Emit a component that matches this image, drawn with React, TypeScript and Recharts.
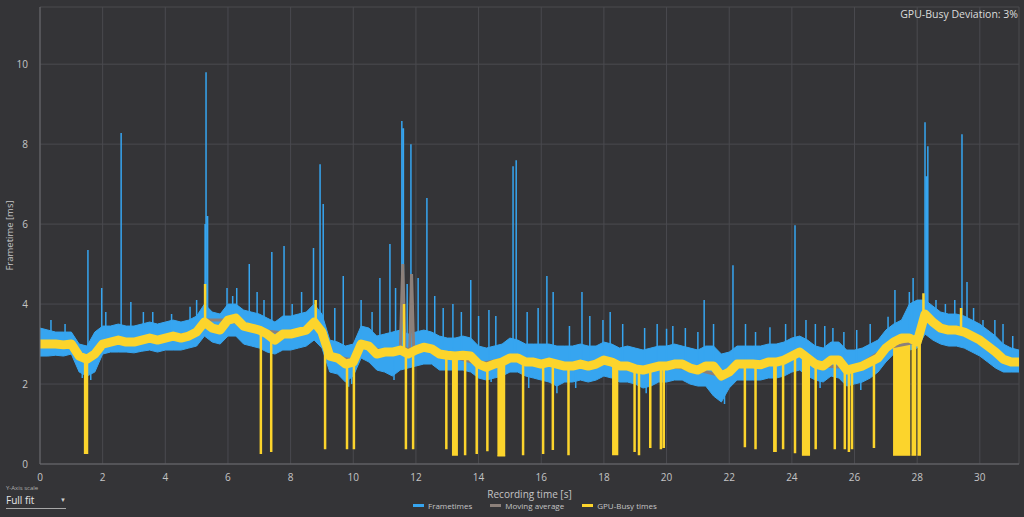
import React from 'react';
import { ComposedChart, Line, Area, XAxis, YAxis, CartesianGrid } from 'recharts';

// samples are 0.25 s apart
const STEP = 0.25;

// GPU-busy band centre (ms), one row per second
const gpuBusy = [
  3.0, 3.0, 3.0, 2.98,
  3.0, 2.7, 2.62, 2.75,
  3.0, 3.05, 3.1, 3.05,
  3.05, 3.1, 3.15, 3.1,
  3.15, 3.2, 3.15, 3.2,
  3.3, 3.55, 3.4, 3.35,
  3.6, 3.65, 3.45, 3.4,
  3.35, 3.25, 3.1, 3.25,
  3.25, 3.3, 3.35, 3.55,
  3.3, 2.7, 2.65, 2.5,
  2.55, 3.0, 2.95, 2.75,
  2.8, 2.8, 2.85, 2.75,
  2.85, 2.92, 2.88, 2.75,
  2.72, 2.7, 2.72, 2.7,
  2.5, 2.42, 2.5, 2.55,
  2.65, 2.65, 2.55, 2.55,
  2.5, 2.55, 2.5, 2.45,
  2.45, 2.5, 2.45, 2.5,
  2.6, 2.55, 2.45, 2.45,
  2.38, 2.35, 2.4, 2.45,
  2.45, 2.5, 2.5, 2.4,
  2.35, 2.45, 2.45, 2.2,
  2.3, 2.5, 2.5, 2.5,
  2.48, 2.55, 2.55, 2.6,
  2.7, 2.8, 2.65, 2.5,
  2.45, 2.6, 2.6, 2.35,
  2.4, 2.45, 2.55, 2.65,
  2.9, 3.05, 3.15, 3.15,
  3.05, 3.75, 3.55, 3.4,
  3.35, 3.35, 3.3, 3.2,
  3.1, 2.95, 2.8, 2.62,
  2.55, 2.55,
];

// frametime band, upper edge
const frameHigh = [
  3.4, 3.35, 3.3, 3.3,
  3.3, 3.0, 2.95, 3.3,
  3.45, 3.45, 3.5, 3.45,
  3.45, 3.5, 3.55, 3.5,
  3.55, 3.6, 3.55, 3.6,
  3.7, 4.0, 3.8, 3.75,
  4.0, 4.0, 3.85, 3.8,
  3.75, 3.65, 3.55, 3.7,
  3.7, 3.75, 3.8, 4.0,
  3.75, 3.1, 3.05, 2.95,
  3.0, 3.45, 3.4, 3.2,
  3.25, 3.3, 3.35, 3.25,
  3.3, 3.35, 3.3, 3.2,
  3.15, 3.15, 3.2, 3.15,
  2.95, 2.9, 2.95, 3.0,
  3.15, 3.1, 3.0, 3.0,
  3.0, 3.0, 2.95, 2.95,
  2.95, 3.0, 2.95, 2.95,
  3.05, 3.0, 2.9, 2.95,
  2.9, 2.85, 2.9, 2.95,
  2.95, 3.0, 2.95, 2.9,
  2.85, 2.95, 2.95, 2.75,
  2.8, 2.95, 2.95, 2.95,
  2.95, 3.0, 3.0, 3.05,
  3.15, 3.2, 3.1, 2.95,
  2.9, 3.05, 3.05, 2.85,
  2.85, 2.9, 3.0, 3.1,
  3.35, 3.5, 3.6, 4.0,
  4.1, 4.1, 3.95, 3.8,
  3.75, 3.75, 3.7, 3.6,
  3.5, 3.35, 3.2, 3.0,
  2.9, 2.85,
];

// frametime band, lower edge
const frameLow = [
  2.7, 2.7, 2.72, 2.7,
  2.75, 2.3, 2.2, 2.3,
  2.75, 2.8, 2.8, 2.8,
  2.78, 2.82, 2.85, 2.8,
  2.85, 2.85, 2.85, 2.9,
  2.95, 3.2, 3.05, 3.0,
  3.2, 3.2, 3.0, 2.95,
  2.9, 2.8, 2.75, 2.85,
  2.85, 2.9, 2.95, 3.1,
  2.9, 2.3, 2.25, 2.05,
  2.2, 2.65, 2.55, 2.35,
  2.3, 2.2, 2.35, 2.4,
  2.45, 2.5, 2.5, 2.35,
  2.35, 2.35, 2.35, 2.3,
  2.15, 2.1, 2.15, 2.2,
  2.3, 2.3, 2.2, 2.15,
  2.1, 2.05, 1.95, 2.05,
  2.05, 2.1, 2.05, 2.1,
  2.2, 2.15, 2.05, 2.05,
  2.0, 1.9, 1.95, 2.05,
  2.05, 2.1, 2.1, 2.0,
  1.95, 1.95, 1.7, 1.55,
  1.9, 2.1, 2.1, 2.1,
  2.1, 2.15, 2.15, 2.2,
  2.3, 2.35, 2.2, 2.1,
  2.05, 2.2, 2.15, 1.95,
  2.0, 2.05, 2.15, 2.3,
  2.55, 2.75, 2.85, 2.85,
  2.9, 3.25, 3.1, 3.0,
  2.95, 2.95, 2.9, 2.8,
  2.7, 2.55, 2.4, 2.3,
  2.3, 2.3,
];

// single frametime spikes [time s, peak ms]
const frameSpikes = [
  [0.35, 3.6], [0.8, 3.5], [1.53, 5.35], [1.97, 4.4], [2.1, 3.8], [2.59, 8.28], [2.9, 4.05],
  [3.3, 3.8], [3.6, 3.8], [4.2, 3.75], [4.79, 3.93], [5.0, 4.1], [5.27, 6.0], [5.3, 9.8],
  [5.35, 6.2], [5.97, 4.4], [6.15, 4.2], [6.28, 4.4], [6.68, 5.0], [6.93, 4.3], [7.15, 4.1],
  [7.4, 5.3], [7.79, 5.45], [8.05, 4.0], [8.35, 4.3], [8.73, 5.4], [8.94, 7.5], [9.04, 6.5],
  [9.41, 3.9], [9.68, 4.7], [10.25, 4.1], [10.6, 3.8], [10.85, 4.65], [11.17, 5.5], [11.35, 4.4],
  [11.55, 8.58], [11.6, 8.4], [11.72, 4.5], [11.84, 8.0], [12.07, 4.65], [12.35, 6.65], [12.6, 4.2],
  [12.87, 3.9], [13.18, 4.0], [13.45, 3.8], [13.75, 4.6], [14.0, 3.7], [14.33, 3.85], [14.55, 3.7],
  [15.1, 7.45], [15.2, 7.6], [15.55, 3.8], [15.9, 3.9], [16.18, 4.7], [16.38, 4.3], [16.9, 3.45],
  [17.3, 4.3], [17.55, 3.7], [17.97, 3.6], [18.2, 3.8], [18.6, 3.5], [19.3, 3.4], [19.7, 3.5],
  [20.0, 3.38], [20.2, 3.45], [20.6, 3.4], [21.0, 3.3], [21.2, 4.1], [21.5, 3.5], [22.12, 4.97],
  [22.52, 3.5], [22.84, 3.3], [23.3, 3.42], [23.8, 3.5], [24.1, 5.97], [24.45, 3.6], [24.75, 3.5],
  [25.05, 3.45], [25.31, 3.4], [25.66, 3.3], [26.07, 3.35], [26.5, 3.5], [27.07, 3.68], [27.29, 4.35],
  [27.75, 4.3], [27.87, 4.65], [28.25, 8.55], [28.3, 7.2], [28.34, 7.95], [28.6, 4.1], [28.9, 4.0],
  [29.2, 4.1], [29.43, 8.25], [29.59, 4.55], [29.8, 3.9], [30.1, 3.6], [30.48, 3.6], [30.74, 3.5],
  [31.05, 3.2],
];
// short frametime dips below the band [time s, low ms]
const frameDips = [
  [1.35, 2.15], [1.62, 2.1], [9.85, 1.93], [9.95, 2.0], [11.3, 2.1], [14.4, 2.05], [15.6, 1.9],
  [16.5, 1.77], [17.1, 1.9], [19.35, 1.77], [21.85, 1.5], [24.9, 1.9], [25.7, 1.8], [26.2, 1.85],
];

// GPU-busy upward peaks and single drops [time s, value ms]
const gpuPeaks = [[5.27, 4.5], [8.8, 4.1], [11.62, 4.0], [28.2, 4.27], [29.4, 3.9]];
const gpuDrops = [
  [1.44, 0.25], [1.5, 0.25], [7.05, 0.25], [7.38, 0.3], [9.1, 0.37], [9.8, 0.37], [10.02, 0.37],
  [11.68, 0.37], [11.91, 0.37], [12.97, 0.37], [13.57, 0.22], [13.94, 0.25], [14.28, 0.32],
  [15.42, 0.22], [16.06, 0.25], [16.37, 0.35], [16.87, 0.22], [18.3, 0.22], [18.36, 0.22],
  [18.42, 0.22], [18.98, 0.3], [19.12, 0.22], [19.48, 0.4], [19.82, 0.37], [19.91, 0.4],
  [22.5, 0.42], [22.84, 0.37], [23.44, 0.3], [23.48, 0.3], [23.72, 0.37], [24.1, 0.27],
  [24.76, 0.37], [25.37, 0.37], [25.69, 0.37], [25.82, 0.3], [25.92, 0.37], [26.62, 0.4],
];
// dense runs of drops [from s, to s, bottom ms]
const gpuDropBlocks = [
  [13.15, 13.34, 0.22], [14.6, 14.85, 0.2], [24.32, 24.58, 0.22],
  [27.23, 27.78, 0.22], [27.82, 27.97, 0.22], [28.01, 28.12, 0.22],
];

// moving average
const maTimes = [0, 1, 1.5, 2, 3, 4, 5, 5.3, 6, 7, 8, 8.8, 9.3, 10, 10.3, 11, 11.5, 11.58, 11.65, 11.8, 11.86, 11.93, 12.5, 13, 14, 15, 16, 17, 18, 19, 20, 21, 21.8, 22.5, 23.5, 24.25, 25, 26, 27, 28, 28.3, 29, 30, 31, 31.25];
const maValues = [3.0, 2.95, 2.65, 3.0, 3.1, 3.15, 3.3, 3.6, 3.6, 3.35, 3.25, 3.5, 2.7, 2.6, 3.0, 2.8, 2.85, 5.0, 2.9, 2.85, 4.75, 2.85, 2.88, 2.72, 2.5, 2.65, 2.5, 2.45, 2.6, 2.38, 2.45, 2.35, 2.2, 2.5, 2.55, 2.8, 2.45, 2.4, 2.9, 3.05, 3.75, 3.35, 3.1, 2.55, 2.55];

const xTicks = [0, 2, 4, 6, 8, 10, 12, 14, 16, 18, 20, 22, 24, 26, 28, 30];
const yTicks = [0, 2, 4, 6, 8, 10];

const BLUE = '#36a5f0';
const YELLOW = '#fcd42c';
const GREY = '#8c807a';
const TEXT = '#c4c4c6';
const FRAME = '#6a6a6f';
const FONT = "'Segoe UI', 'Open Sans', sans-serif";

const centreAt = (t) => gpuBusy[Math.min(gpuBusy.length - 1, Math.round(t / STEP))];

const bandData = gpuBusy.map((g, i) => ({ t: i * STEP, gpu: g, ft: [frameLow[i], frameHigh[i]] }));
const spikeData = (list) =>
  list.flatMap(([t, v]) => [{ t, v: centreAt(t) }, { t, v }, { t, v: null }]);
const blueSpikes = spikeData([...frameSpikes, ...frameDips]);
const yellowSpikes = spikeData([...gpuPeaks, ...gpuDrops]);
const blocks = gpuDropBlocks.map(([a, b, low]) => [
  { t: a, r: [low, centreAt(a)] },
  { t: b, r: [low, centreAt(b)] },
]);
const maData = maTimes.map((t, i) => ({ t, v: maValues[i] }));

const legendItems = [
  { name: 'Frametimes', color: BLUE },
  { name: 'Moving average', color: GREY },
  { name: 'GPU-Busy times', color: YELLOW },
];

export default function App() {
  return (
    <div style={{ position: 'fixed', left: 0, top: 0, width: 1024, height: 517, background: '#343437', fontFamily: FONT, overflow: 'hidden' }}>
      <ComposedChart width={1024} height={517} margin={{ top: 7, right: 5, left: 0, bottom: 23 }}>
        <CartesianGrid stroke="#4a4a4f" vertical horizontal />
        <XAxis
          dataKey="t"
          type="number"
          domain={[0, 31.25]}
          ticks={xTicks}
          allowDataOverflow
          height={30}
          tickLine={false}
          axisLine={{ stroke: FRAME }}
          tick={{ fill: TEXT, fontSize: 10, fontFamily: FONT }}
          tickMargin={4}
          label={{ value: 'Recording time [s]', position: 'insideBottom', offset: -4, fill: TEXT, fontSize: 10, fontFamily: FONT }}
        />
        {/* top and right frame of the plot */}
        <XAxis xAxisId="top" orientation="top" type="number" domain={[0, 31.25]} height={0} tick={false} tickLine={false} axisLine={{ stroke: FRAME }} />
        <YAxis yAxisId="right" orientation="right" type="number" domain={[0, 11.43]} width={0} tick={false} tickLine={false} axisLine={{ stroke: FRAME }} />
        <YAxis
          type="number"
          domain={[0, 11.43]}
          ticks={yTicks}
          allowDataOverflow
          width={40}
          tickLine={false}
          axisLine={{ stroke: FRAME }}
          tick={{ fill: TEXT, fontSize: 10, fontFamily: FONT }}
          tickMargin={6}
          label={{ value: 'Frametime [ms]', angle: -90, position: 'insideLeft', offset: 10, fill: TEXT, fontSize: 9.5, fontFamily: FONT, style: { textAnchor: 'middle' } }}
        />
        <Area data={bandData} dataKey="ft" type="linear" stroke={BLUE} strokeWidth={1} fill={BLUE} fillOpacity={1} isAnimationActive={false} dot={false} activeDot={false} />
        <Line data={blueSpikes} dataKey="v" type="linear" stroke={BLUE} strokeWidth={1.5} dot={false} activeDot={false} connectNulls={false} isAnimationActive={false} />
        <Line data={maData} dataKey="v" type="linear" stroke={GREY} strokeWidth={3} dot={false} activeDot={false} isAnimationActive={false} />
        {blocks.map((b, i) => (
          <Area key={i} data={b} dataKey="r" type="linear" stroke={YELLOW} strokeWidth={1} fill={YELLOW} fillOpacity={1} isAnimationActive={false} dot={false} activeDot={false} />
        ))}
        <Line data={yellowSpikes} dataKey="v" type="linear" stroke={YELLOW} strokeWidth={2.5} dot={false} activeDot={false} connectNulls={false} isAnimationActive={false} />
        <Line data={bandData} dataKey="gpu" type="linear" stroke={YELLOW} strokeWidth={9} strokeLinejoin="round" dot={false} activeDot={false} isAnimationActive={false} />
      </ComposedChart>

      <div style={{ position: 'absolute', right: 6, top: 7, color: '#dcdcdc', fontSize: 10.5 }}>GPU-Busy Deviation: 3%</div>

      <div style={{ position: 'absolute', left: 413, top: 500, display: 'flex', alignItems: 'center', gap: 18, fontSize: 8, color: TEXT }}>
        {legendItems.map((it) => (
          <div key={it.name} style={{ display: 'flex', alignItems: 'center', gap: 4 }}>
            <div style={{ width: 11, height: 3, background: it.color }} />
            <span>{it.name}</span>
          </div>
        ))}
      </div>

      <div style={{ position: 'absolute', left: 6, top: 484, fontSize: 6, color: '#b0b0b0' }}>Y-Axis scale</div>
      <div style={{ position: 'absolute', left: 6, top: 492, width: 60, height: 16, borderBottom: '1px solid #a8a8a8', color: '#e6e6e6', fontSize: 10, display: 'flex', justifyContent: 'space-between', alignItems: 'center' }}>
        <span>Full fit</span>
        <span style={{ fontSize: 6, color: '#cfcfcf' }}>▼</span>
      </div>
    </div>
  );
}
